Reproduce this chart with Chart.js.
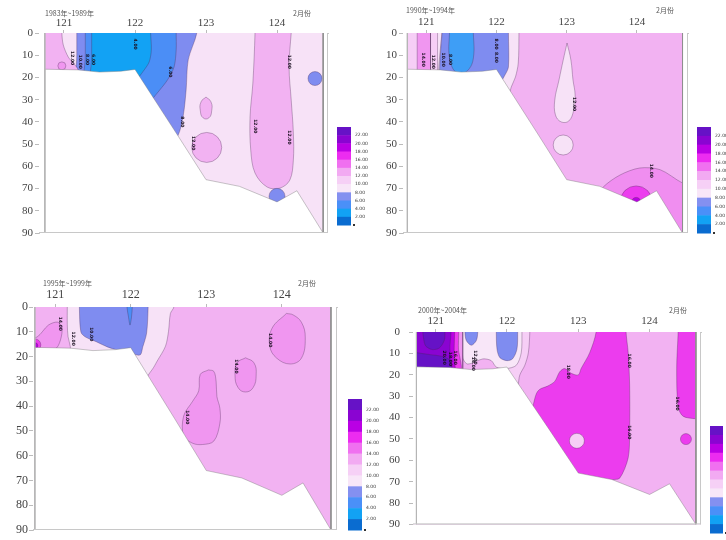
<!DOCTYPE html>
<html>
<head>
<meta charset="utf-8">
<script src="https://cdn.jsdelivr.net/npm/chart.js@4.4.1/dist/chart.umd.min.js"></script>
<style>
  body { margin:0; width:726px; height:540px; overflow:hidden; background:#fff; position:relative; }
  canvas { position:absolute; }
</style>
</head>
<body>
<canvas id="p1" width="390" height="270" style="left:0;top:0"></canvas>
<canvas id="p2" width="390" height="270" style="left:363px;top:0"></canvas>
<canvas id="p3" width="390" height="270" style="left:0;top:270px"></canvas>
<canvas id="p4" width="390" height="270" style="left:363px;top:270px"></canvas>
<script>
// ---- data: [longitude, depth] ----
var lonEdge = [120.73, 124.65];
var lonTicks = [121, 122, 123, 124];
var bandLabels = ['22.00','20.00','18.00','16.00','14.00','12.00','10.00','8.00','6.00','4.00','2.00'];
var periods = ['1983年~1989年', '1990年~1994年', '1995年~1999年', '2000年~2004年'];
var month = '2月份';

var water = [[120.6,-10],[124.8,-10],[124.8,95],[120.6,95]];
var seabed = [[120.73,16.3],[121.2,16.6],[121.5,17.6],[121.8,17.2],[122.0,16.4],[122.58,45],[123.0,66],[123.47,69],[124.0,76],[124.28,71],[124.65,90],[120.73,90]];
var marginLeft = [[120.5,-10],[120.73,-10],[120.73,95],[120.5,95]];
var marginRight = [[124.65,-10],[124.9,-10],[124.9,95],[124.65,95]];

// 1983-1989
var p1Lavender = [[121.18,-10],[122.87,-10],[122.87,0],[122.75,12],[122.72,25.6],[122.68,37],[122.6,46.5],[122.3,60],[121.18,40],[121.18,10]];
var p1Medium = [[121.30,-10],[122.58,-10],[122.58,0],[122.58,7.7],[122.55,15.3],[122.46,21],[122.35,25.6],[122.25,29.5],[122.0,40],[121.30,35],[121.30,10]];
var p1Bright = [[121.39,-10],[122.21,-10],[122.22,0],[122.23,7.7],[122.2,13],[122.13,16.6],[122.05,20],[121.8,30],[121.39,30],[121.39,10]];
var p1Pink = [[120.6,-10],[120.97,-10],[120.97,0],[120.99,5.4],[121.06,10.8],[121.13,13.5],[121.2,17],[121.1,25],[120.6,25]];
var p1Band124 = [[123.69,-10],[123.69,0],[123.66,22.5],[123.62,37.8],[123.63,52.7],[123.69,63],[123.86,69.3],[124.04,69.8],[124.18,66.2],[124.23,57.2],[124.23,45],[124.2,30.2],[124.17,15.3],[124.2,0],[124.23,-10]];
var p1Drop = [[123.0,28.8],[123.07,31],[123.08,35],[123.04,38.2],[122.96,38.2],[122.92,35],[122.93,31]];
var p1SpotLeft = [120.97,14.8];
var p1Round = [123.01,51.5];
var p1BlueSpot = [124.535,20.5];
var p1BlueBottom = [124.0,73.5];
var p1Labels = [[121.11,11.3,'12.00'],[121.23,13,'10.00'],[121.32,12,'8.00'],[121.41,12,'6.00'],[122.0,5,'4.00'],
  [122.49,17.5,'6.00'],[122.66,40,'8.00'],[122.82,49.6,'12.00'],[123.69,42,'12.00'],[124.17,13,'12.00'],[124.17,47,'12.00']];

// 1990-1994
var p2LeftPale = [[120.6,-10],[121.24,-10],[121.24,25],[120.6,25]];
var p2LeftPink = [[120.87,-10],[121.06,-10],[121.06,25],[120.87,25]];
var p2LeftWhite = [[121.16,-10],[121.24,-10],[121.24,25],[121.16,25]];
var p2Pale = [[121.24,-10],[122.32,-10],[122.32,0],[122.31,13.5],[122.27,19.8],[122.21,24.3],[122.1,35],[121.24,35]];
var p2Lavender = [[121.24,-10],[122.17,-10],[122.17,0],[122.17,15.3],[122.12,18.9],[122.05,22.5],[121.8,30],[121.24,30]];
var p2Sky = [[121.33,-10],[121.67,-10],[121.67,0],[121.68,8],[121.65,14],[121.56,17.6],[121.42,17.6],[121.35,14],[121.32,8],[121.33,0]];
var p2Tear = [[123.005,4.5],[123.06,12.2],[123.09,21.2],[123.12,27.9],[123.10,34.7],[123.03,39.6],[122.92,40],[122.84,36.9],[122.83,30.2],[122.89,21.2],[122.95,12.2]];
var p2Round = [122.95,50.4];
var p2Arc = [[123.4,75],[123.52,69.3],[123.76,63.9],[124.04,60.75],[124.33,61.5],[124.65,67.5],[124.8,68.5],[124.8,95],[123.4,95]];
var p2Warm = [123.99,76];
var p2Core = [123.99,76];
var p2Labels = [[120.96,12,'14.00'],[121.1,13,'12.00'],[121.24,12,'10.00'],[121.34,12,'8.00'],[122.0,5,'8.00'],[122.0,11,'8.00'],
  [123.1,32,'12.00'],[124.2,62,'14.00']];

// 1995-1999
var p3Pale = [[121.16,-10],[122.57,-10],[122.57,0],[122.525,2.6],[122.5,9.8],[122.46,15.8],[122.35,21.8],[122.28,25.4],[122.0,35],[121.24,30],[121.2,16],[121.17,12],[121.16,7],[121.16,0]];
var p3Blue = [[121.32,-10],[122.23,-10],[122.23,0],[122.21,10.5],[122.16,16],[122.12,19.4],[121.95,18],[121.83,17.4],[121.69,16.1],[121.55,14.1],[121.40,12.1],[121.34,10.1],[121.32,0]];
var p3Tongue = [[121.95,-10],[122.02,-10],[122.02,0],[122.01,4],[121.99,7.3],[121.97,4],[121.95,0]];
var p3LeftBlob = [[120.6,13],[120.76,12.1],[120.91,7.3],[121.03,6.1],[121.09,8.1],[121.07,13.3],[121.0,17],[120.6,20]];
var p3HotSpot = [120.73,15.3];
var p3HotCore = [120.73,15.6];
var p3Blob124 = [[124.06,2.6],[123.87,8.6],[123.84,15.8],[123.93,20.6],[124.11,23],[124.26,20.6],[124.31,12.2],[124.26,6.2],[124.15,3.2]];
var p3Blob1235 = [[123.52,20.5],[123.63,22.5],[123.66,27.4],[123.62,32.5],[123.52,34.3],[123.42,32.5],[123.38,27.4],[123.41,22.5]];
var p3Gourd = [[123.03,25.4],[122.92,27.2],[122.9,33.8],[122.82,38],[122.7,44],[122.7,52],[122.82,55],[122.95,55.5],[123.10,54.1],[123.18,46.9],[123.18,40.9],[123.14,36.1],[123.13,30.2],[123.10,26]];
var p3Labels = [[121.07,6.8,'14.00'],[121.24,12.8,'12.00'],[121.47,11,'10.00'],[123.85,13.4,'14.00'],[123.4,24,'14.00'],[122.75,44.5,'14.00']];

// 2000-2004
var p4LightLeft = [[121.29,-10],[122.32,-10],[122.32,0],[122.30,9.7],[122.25,15.6],[122.18,20.1],[122.1,30],[121.29,30]];
var p4Under = [[121.3,5],[121.9,5],[121.9,30],[121.3,30]];
var p4PaleU = [[121.37,-10],[122.21,-10],[122.21,0],[122.20,9.7],[122.13,15.6],[121.99,17.1],[121.85,16.4],[121.78,13.4],[121.66,12.6],[121.45,15],[121.38,12],[121.37,0]];
var p4Blue1 = [[121.41,-10],[121.59,-10],[121.59,0],[121.57,4],[121.5,6.2],[121.43,4],[121.41,0]];
var p4Blue2 = [[121.85,-10],[122.15,-10],[122.15,0],[122.14,8],[122.08,12.5],[122.0,13.4],[121.9,12],[121.86,8],[121.85,0]];
var p4StripPink = [[121.28,-10],[121.38,-10],[121.38,30],[121.28,30]];
var p4StripMag = [[121.22,-10],[121.32,-10],[121.32,8],[121.36,16],[121.36,30],[121.22,30]];
var p4StripPurple = [[121.15,-10],[121.26,-10],[121.26,10],[121.29,30],[121.15,30]];
var p4Violet = [[120.6,-10],[121.2,-10],[121.2,8],[121.24,30],[120.6,30]];
var p4DeepTop = [[120.82,-10],[121.13,-10],[121.13,0],[121.12,4],[121.05,7.5],[120.95,8.2],[120.86,6.5],[120.83,3],[120.82,0]];
var p4DeepLow = [[120.6,9],[120.9,10.5],[121.1,11.5],[121.2,13.5],[121.25,30],[120.6,30]];
var p4Magenta = [[123.25,-10],[123.67,-10],[123.67,0],[123.70,9.7],[123.72,24.6],[123.72,46.9],[123.70,58.8],[123.58,68.4],[123.46,69.5],[123.2,85],[122.5,85],[122.3,40],[122.36,35],[122.41,29],[122.46,26.8],[122.57,25.3],[122.67,23.1],[122.74,18.6],[122.81,17.1],[122.90,19.3],[123.0,20.1],[123.04,17.1],[123.16,9.7],[123.25,0]];
var p4PaleRound = [122.98,50.9];
var p4RightStrip = [[124.40,-10],[124.8,-10],[124.8,40.8],[124.65,40.6],[124.47,39.4],[124.40,35],[124.38,17.1],[124.4,0]];
var p4RightRound = [124.51,50.1];
var p4Labels = [[121.12,12,'20.00'],[121.2,12.6,'18.00'],[121.27,12,'16.00'],[121.55,11.9,'12.00'],[121.52,14.9,'14.00'],
  [122.86,18.6,'18.00'],[123.72,13.4,'16.00'],[123.72,46.9,'16.00'],[124.38,33.5,'16.00']];

// ---- styles ----
var C = {
  v22:'#6612c6', v20:'#8a04d2', v18:'#ba00e4', m16:'#ec3cee', p14:'#f096f0', p12:'#f2b2f2',
  p10:'#f6cef6', p8:'#f7e2f7', b6:'#7f8cf0', b4:'#4b8ef6', b2:'#12a2f4', sky:'#3e9ef6'
};
var bandColors = ['#6612c6','#8a04d2','#ba00e4','#ec2cf0','#f070f0','#f2aaf2','#f6d0f6','#f8e6f8','#8490f0','#4a90f8','#12a2f4','#0a6cd0'];
var EDGE = 'rgba(70,40,80,0.55)';

function poly(pts, color, t) { return {kind:'poly', pts:pts, color:color, t:(t === undefined ? 0.3 : t)}; }
function dot(at, color, r) { return {kind:'dot', at:at, color:color, r:r}; }

var panels = [
  { id:'p1', title:periods[0], area:{l:39, r:328, t:33, b:233}, xMin:120.648, xMax:124.718,
    xPad:0, yPad:2, font:11, titleAt:[45,13], monthAt:[302,13], bar:{x:337, y:127, w:14, h:98}, labels:p1Labels,
    layers:[ poly(water, C.p8, 0), poly(p1Lavender, C.b6), poly(p1Medium, C.b4), poly(p1Bright, C.b2),
      poly(p1Pink, C.p12), dot(p1SpotLeft, C.p14, 4), poly(p1Band124, C.p12, 0.35), poly(p1Drop, C.p12, 0.5),
      dot(p1Round, C.p12, 15), dot(p1BlueSpot, C.b6, 7), dot(p1BlueBottom, C.b6, 8) ] },
  { id:'p2', title:periods[1], area:{l:40, r:325, t:33, b:233}, xMin:120.668, xMax:124.728,
    xPad:1, yPad:2, font:11, titleAt:[43,10], monthAt:[302,10], bar:{x:334, y:127, w:14, h:106}, labels:p2Labels,
    layers:[ poly(water, C.p12, 0), poly(p2LeftPale, C.p10, 0), poly(p2LeftPink, C.p14, 0), poly(p2LeftWhite, C.p8, 0),
      poly(p2Pale, C.p8), poly(p2Lavender, C.b6), poly(p2Sky, C.sky), poly(p2Tear, C.p8, 0.4),
      dot(p2Round, C.p8, 10), poly(p2Arc, '#f08ef0'), dot(p2Warm, C.m16, 16), dot(p2Core, C.v18, 4.5) ] },
  { id:'p3', title:periods[2], area:{l:33, r:337, t:37, b:260}, xMin:120.706, xMax:124.73,
    xPad:2, yPad:1, font:12, titleAt:[43,13], monthAt:[307,13], bar:{x:348, y:129, w:14, h:131}, labels:p3Labels,
    layers:[ poly(water, C.p12, 0), poly(p3Pale, C.p8), poly(p3Blue, C.b6), poly(p3Tongue, C.b4),
      poly(p3LeftBlob, C.p14), dot(p3HotSpot, C.m16, 6), dot(p3HotCore, C.v18, 3),
      poly(p3Blob124, C.p14, 0.4), poly(p3Blob1235, C.p14, 0.45), poly(p3Gourd, C.p14, 0.35) ] },
  { id:'p4', title:periods[3], area:{l:50, r:338, t:62, b:263}, xMin:120.682, xMax:124.721,
    xPad:1.5, yPad:9, font:11, titleAt:[55,40], monthAt:[315,40], bar:{x:347, y:156, w:13, h:107}, labels:p4Labels,
    layers:[ poly(water, C.p12, 0), poly(p4LightLeft, C.p10), poly(p4Under, C.p12, 0), poly(p4PaleU, '#f8e6f8'),
      poly(p4Blue1, C.b6), poly(p4Blue2, C.b6), poly(p4StripPink, C.p14, 0), poly(p4StripMag, C.m16, 0.2),
      poly(p4StripPurple, C.v18, 0.2), poly(p4Violet, C.v20, 0.2), poly(p4DeepTop, C.v22), poly(p4DeepLow, C.v22),
      poly(p4Magenta, C.m16), dot(p4PaleRound, C.p10, 7.5), poly(p4RightStrip, C.m16), dot(p4RightRound, C.m16, 5.5) ] }
];

function toXY(pts) { return pts.map(function (p) { return {x:p[0], y:p[1]}; }); }

function layerDataset(L, order) {
  if (L.kind === 'dot') {
    return { type:'scatter', data:toXY([L.at]), pointRadius:L.r, pointBackgroundColor:L.color,
      pointBorderColor:EDGE, pointBorderWidth:0.6, order:order };
  }
  return { type:'line', data:toXY(L.pts.concat([L.pts[0]])), fill:'shape', backgroundColor:L.color,
    borderColor:EDGE, borderWidth:0.6, tension:L.t, pointRadius:0, order:order };
}

function maskDataset(pts, order, edge) {
  return { type:'line', data:toXY(pts.concat([pts[0]])), fill:'shape', backgroundColor:'#ffffff',
    borderColor:edge || 'rgba(0,0,0,0)', borderWidth:edge ? 0.7 : 0, tension:0, pointRadius:0, order:order };
}

function buildPanel(cfg) {
  var cv = document.getElementById(cfg.id);
  var W = cv.width, H = cv.height, a = cfg.area;
  var datasets = cfg.layers.map(function (L, i) { return layerDataset(L, 1000 - i); });
  datasets[0].borderWidth = 0;
  datasets.push(maskDataset(seabed, 20, 'rgba(120,120,120,0.6)'));
  datasets.push(maskDataset(marginLeft, 15));
  datasets.push(maskDataset(marginRight, 15));
  lonEdge.forEach(function (e, k) {
    datasets.push({ type:'line', data:toXY([[e,0],[e,90]]), borderColor:(k ? '#8f8f8f' : '#b5b5b5'), borderWidth:1,
      pointRadius:0, fill:false, order:5 });
  });
  var serif = { family:"'Liberation Serif', serif", size:cfg.font };

  var decor = {
    id:'decor',
    afterDatasetsDraw: function (chart) {
      var ca = chart.chartArea, ctx = chart.ctx, sx = chart.scales.x, sy = chart.scales.y;
      ctx.save();
      ctx.strokeStyle = '#c8c8c8'; ctx.lineWidth = 1;
      ctx.beginPath();
      ctx.moveTo(ca.right - 0.5, ca.top); ctx.lineTo(ca.right - 0.5, ca.bottom);
      ctx.moveTo(ca.left, ca.bottom - 0.5); ctx.lineTo(ca.right, ca.bottom - 0.5);
      ctx.stroke();
      // contour value labels
      ctx.fillStyle = '#1a1020';
      ctx.font = "bold 4.5px 'DejaVu Sans', sans-serif";
      ctx.textAlign = 'center'; ctx.textBaseline = 'middle';
      cfg.labels.forEach(function (lb) {
        ctx.save();
        ctx.translate(sx.getPixelForValue(lb[0]), sy.getPixelForValue(lb[1]));
        ctx.rotate(Math.PI / 2);
        ctx.fillText(lb[2], 0, 0);
        ctx.restore();
      });
      ctx.restore();
    },
    afterDraw: function (chart) {
      var ctx = chart.ctx, b = cfg.bar;
      ctx.save();
      ctx.fillStyle = '#555';
      ctx.font = "7px 'Noto Sans CJK SC', sans-serif";
      ctx.textBaseline = 'middle';
      ctx.textAlign = 'left';
      ctx.fillText(cfg.title, cfg.titleAt[0], cfg.titleAt[1]);
      ctx.textAlign = 'center';
      ctx.fillText(month, cfg.monthAt[0], cfg.monthAt[1]);
      var bh = b.h / bandColors.length;
      bandColors.forEach(function (c, i) {
        ctx.fillStyle = c;
        ctx.fillRect(b.x, b.y + i * bh, b.w, bh + 0.5);
      });
      ctx.fillStyle = '#333';
      ctx.font = "4.5px 'DejaVu Sans', sans-serif";
      ctx.textAlign = 'left';
      bandLabels.forEach(function (t, i) { ctx.fillText(t, b.x + b.w + 4, b.y + (i + 1) * bh); });
      ctx.fillRect(b.x + b.w + 2, b.y + b.h - 1, 2, 2);
      ctx.restore();
    }
  };

  new Chart(cv, {
    type:'line',
    data:{ datasets:datasets },
    plugins:[decor],
    options:{
      responsive:false, animation:false, events:[],
      layout:{ padding:{ left:0, top:0, right:W - a.r, bottom:H - a.b } },
      plugins:{ legend:{ display:false }, tooltip:{ enabled:false } },
      scales:{
        x:{ type:'linear', position:'top', min:cfg.xMin, max:cfg.xMax,
          afterBuildTicks:function (s) { s.ticks = lonTicks.map(function (v) { return {value:v}; }); },
          afterFit:function (s) { s.height = a.t; },
          ticks:{ font:serif, color:'#444', padding:cfg.xPad, maxRotation:0, autoSkip:false },
          grid:{ drawOnChartArea:false, tickLength:3, color:'#bbb' },
          border:{ color:'#c8c8c8' } },
        y:{ type:'linear', reverse:true, min:0, max:90,
          afterFit:function (s) { s.width = a.l; },
          ticks:{ stepSize:10, font:serif, color:'#444', padding:cfg.yPad },
          grid:{ drawOnChartArea:false, tickLength:4, color:'#bbb' },
          border:{ color:'#c8c8c8' } }
      }
    }
  });
}

panels.forEach(buildPanel);
</script>
</body>
</html>
